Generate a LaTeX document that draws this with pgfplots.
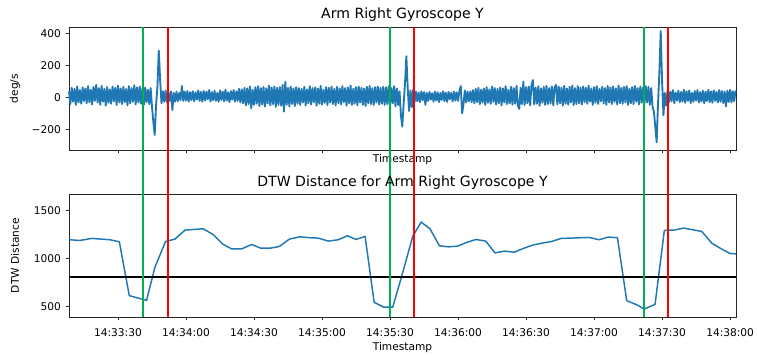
\documentclass[border=0pt]{standalone}
\usepackage{pgfplots}
\pgfplotsset{compat=1.18}
\usepackage{pgfplotstable}
\usepackage{fontspec}
\setmainfont{DejaVu Sans}
\definecolor{tabblue}{HTML}{1F77B4}
\definecolor{vgreen}{HTML}{00B050}
\definecolor{vred}{HTML}{FF0000}

% gyroscope Y (deg/s), sampled every 0.6 s from t = 8.4 s (t in s after 14:33:00)
\pgfplotstableread[row sep=\\, header=false]{
40\\-40\\62\\-25\\55\\-45\\70\\-30\\48\\-38\\
65\\-22\\58\\-35\\72\\-28\\50\\-42\\68\\-20\\
80\\-30\\60\\-45\\74\\-25\\55\\-50\\66\\-32\\
52\\-38\\70\\-22\\62\\-46\\75\\-30\\58\\-40\\
68\\-28\\54\\-48\\72\\-35\\60\\-25\\78\\-42\\
65\\-30\\70\\-38\\58\\-45\\62\\-28\\50\\-40\\
60\\-55\\-150\\-233\\-50\\70\\294\\110\\-35\\40\\
-25\\45\\-30\\35\\-20\\40\\-77\\30\\-25\\38\\
-22\\30\\-15\\73\\-20\\38\\-18\\42\\-25\\35\\
-15\\40\\-22\\33\\-12\\45\\-20\\36\\-25\\42\\
-18\\38\\-10\\48\\-24\\35\\-16\\44\\-20\\30\\
-26\\46\\-14\\38\\-22\\50\\-18\\34\\-28\\42\\
-12\\48\\-25\\40\\-20\\55\\-30\\52\\
-35\\62\\-48\\58\\-40\\70\\-67\\50\\-45\\65\\-38\\72\\
-52\\60\\-42\\68\\-55\\58\\-36\\75\\-48\\64\\
-40\\70\\-58\\62\\-45\\66\\-50\\80\\-87\\100\\
-45\\62\\-55\\70\\-40\\58\\-52\\66\\-38\\60\\
-45\\55\\-30\\68\\-48\\52\\-35\\72\\-42\\60\\
-28\\65\\-50\\58\\-38\\74\\-44\\50\\-32\\66\\
-46\\62\\-30\\70\\-40\\55\\-48\\68\\-35\\58\\
-42\\72\\-28\\60\\-50\\64\\-36\\76\\-45\\56\\
-38\\66\\-48\\70\\-30\\62\\-44\\58\\-52\\68\\
-35\\74\\-40\\60\\-46\\66\\-30\\70\\-42\\62\\
-38\\68\\-45\\
65\\-40\\70\\-50\\60\\-35\\72\\-55\\58\\-45\\40\\
-110\\-181\\-40\\90\\260\\60\\-83\\45\\-60\\50\\
-30\\38\\-22\\32\\-28\\40\\-15\\35\\-45\\30\\
-20\\36\\-12\\28\\-25\\38\\-18\\34\\-28\\30\\
-14\\40\\-22\\32\\-26\\36\\-10\\30\\-24\\38\\
-18\\34\\-20\\42\\73\\-98\\-40\\45\\-30\\38\\-22\\40\\-28\\
48\\-35\\55\\-28\\62\\-40\\50\\-30\\58\\-45\\
66\\-32\\52\\-38\\70\\-26\\60\\-42\\55\\-35\\
64\\-48\\58\\-30\\72\\-40\\50\\-36\\68\\-44\\
60\\-38\\74\\-50\\-70\\62\\-40\\100\\-45\\66\\
-35\\70\\-48\\80\\110\\-42\\64\\-38\\72\\-50\\
58\\-32\\68\\-45\\75\\-40\\60\\-36\\70\\-48\\
65\\80\\-42\\70\\-35\\62\\-50\\74\\-38\\58\\
-44\\68\\-30\\76\\-46\\60\\-40\\72\\-35\\64\\
-42\\70\\-28\\62\\-38\\75\\-25\\58\\-45\\66\\
-32\\72\\-40\\55\\-22\\68\\-36\\60\\-44\\74\\
-30\\64\\-40\\70\\-26\\58\\-42\\76\\-34\\62\\
-38\\68\\-28\\72\\-45\\56\\-35\\66\\-40\\74\\
-25\\60\\-42\\70\\-32\\64\\-38\\72\\-30\\68\\
-45\\60\\-55\\
-90\\-180\\-279\\-40\\160\\417\\100\\-110\\30\\-50\\
45\\-30\\38\\-22\\48\\-35\\32\\-18\\44\\-28\\
36\\-25\\50\\-32\\40\\-20\\46\\-34\\30\\-26\\
42\\-18\\48\\-30\\35\\-24\\44\\-35\\38\\-22\\
50\\-28\\40\\-32\\46\\-20\\36\\-30\\48\\-25\\
42\\-34\\38\\-55\\44\\-26\\50\\-30\\40\\-22\\45\\
}\gyro

\pgfplotsset{myax/.style={
  scale only axis, width=500.25bp, height=92.25bp,
  xmin=8.4, xmax=302.6, xtick={30,60,...,300},
  tick pos=left, tick align=outside, major tick length=2.6bp,
  axis line style={line width=0.6bp, black!85},
  every tick/.style={black!85, line width=0.6bp},
  tick label style={font=\fontsize{8}{9.6}\selectfont},
  xticklabel style={yshift=-2.6bp},
  label style={font=\fontsize{8}{9.6}\selectfont},
  /pgf/number format/assume math mode=true,
  /pgf/number format/1000 sep={},
  anchor=north west, clip=false,
}}

\begin{document}
\begin{tikzpicture}
\begin{axis}[myax, at={(0,0)},
  ymin=-327, ymax=442,
  ytick={-200,0,200,400}, yticklabels={−200,0,200,400},
  xticklabels={},
  xlabel={Timestamp},
  xlabel style={at={(axis description cs:0.5,-0.081)}, anchor=center},
  ylabel={deg/s},
  ylabel style={at={(axis description cs:-0.081,0.5)}, anchor=center},
]
\addplot[tabblue, line width=1.4bp, line join=round] table[x expr=\coordindex*0.6+8.4, y index=0] {\gyro};
\node[font=\fontsize{10.6}{12.5}\selectfont, anchor=center] at (rel axis cs:0.5,1.098) {Arm Right Gyroscope Y};
\end{axis}

\begin{axis}[myax, at={(0,-125.25bp)},
  ymin=389, ymax=1674,
  ytick={500,1000,1500},
  xticklabels={14:33:30,14:34:00,14:34:30,14:35:00,14:35:30,14:36:00,14:36:30,14:37:00,14:37:30,14:38:00},
  xlabel={Timestamp},
  xlabel style={at={(axis description cs:0.5,-0.252)}, anchor=center},
  ylabel={DTW Distance},
  ylabel style={at={(axis description cs:-0.081,0.5)}, anchor=center},
]
\addplot[tabblue, line width=1.1bp, line join=round] coordinates {
(8.4,1196) (13.2,1189) (18.4,1210) (26.5,1196) (30.6,1175) (35.0,612)
(42.6,563) (46.3,909) (51.0,1178) (55.1,1203) (59.6,1297) (67.6,1311)
(72.1,1248) (76.2,1150) (80.1,1101) (84.6,1101) (89.0,1147) (92.9,1108)
(97.1,1108) (101.2,1126) (105.6,1203) (110.3,1227) (114.7,1217) (118.4,1213)
(122.8,1182) (127.2,1196) (131.2,1238) (135.0,1199) (139.0,1231) (143.0,542)
(147.1,493) (151.2,493) (155.1,811) (160.0,1231) (163.7,1381) (167.6,1311)
(171.8,1133) (175.7,1122) (179.7,1129) (183.8,1168) (187.9,1199) (192.2,1182)
(196.3,1059) (200.4,1077) (204.7,1066) (208.8,1105) (212.9,1140) (217.2,1161)
(221.3,1178) (225.4,1210) (229.7,1213) (233.8,1217) (237.9,1220) (242.2,1196)
(246.3,1224) (250.3,1217) (254.4,559) (258.8,517) (262.1,472) (266.9,521)
(271.0,1294) (275.3,1297) (279.4,1318) (283.4,1301) (287.5,1283) (291.9,1161)
(295.6,1108) (300.0,1052) (302.6,1049)
};
\addplot[black, line width=1.5bp] coordinates {(8.4,808) (302.6,808)};
\draw[vgreen, line width=1.5bp] (axis cs:41.2,389) -- (axis cs:41.2,3418.7);
\draw[vred, line width=1.5bp] (axis cs:51.9,389) -- (axis cs:51.9,3418.7);
\draw[vgreen, line width=1.5bp] (axis cs:149.8,389) -- (axis cs:149.8,3418.7);
\draw[vred, line width=1.5bp] (axis cs:160.7,389) -- (axis cs:160.7,3418.7);
\draw[vgreen, line width=1.5bp] (axis cs:262.1,389) -- (axis cs:262.1,3418.7);
\draw[vred, line width=1.5bp] (axis cs:272.8,389) -- (axis cs:272.8,3418.7);
\node[font=\fontsize{10.6}{12.5}\selectfont, anchor=center] at (rel axis cs:0.5,1.089) {DTW Distance for Arm Right Gyroscope Y};
\end{axis}
\pgfresetboundingbox
\useasboundingbox (-51.75bp,20.25bp) rectangle (516bp,-246bp);
\end{tikzpicture}
\end{document}
